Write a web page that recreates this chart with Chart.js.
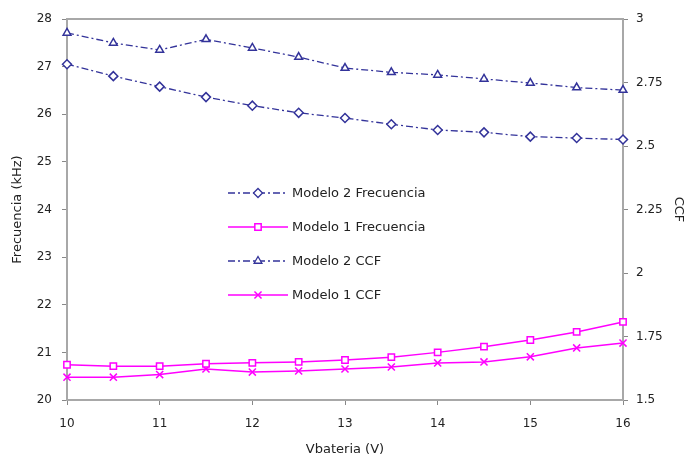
<!DOCTYPE html>
<html>
<head>
<meta charset="utf-8">
<script src="https://cdn.jsdelivr.net/npm/chart.js@4/dist/chart.umd.min.js"></script>
<style>
  body { margin: 0; background: #fff; }
  canvas { display: block; }
</style>
</head>
<body>
<canvas id="chart" width="688" height="462"></canvas>
<script>
// datos
const vbateria = [10, 10.5, 11, 11.5, 12, 12.5, 13, 13.5, 14, 14.5, 15, 15.5, 16];
const modelo2Frec = [27.05, 26.8, 26.58, 26.36, 26.18, 26.03, 25.92, 25.79, 25.67, 25.62, 25.53, 25.5, 25.47];
const modelo1Frec = [20.74, 20.71, 20.71, 20.76, 20.78, 20.8, 20.84, 20.9, 21.0, 21.12, 21.26, 21.43, 21.64];
const modelo2CCF = [2.945, 2.906, 2.878, 2.92, 2.886, 2.85, 2.807, 2.79, 2.78, 2.764, 2.748, 2.73, 2.72];
const modelo1CCF = [1.59, 1.59, 1.6, 1.622, 1.61, 1.614, 1.622, 1.63, 1.646, 1.65, 1.67, 1.705, 1.724];
const frecTicks = [20, 21, 22, 23, 24, 25, 26, 27, 28];
const ccfTicks = [1.5, 1.75, 2, 2.25, 2.5, 2.75, 3];

const azul = '#33339a';
const magenta = '#ff00ff';
const txt = '#222';
const family = 'DejaVu Sans, Liberation Sans, Arial, sans-serif';
const font = { family: family, size: 12 };
const titleFont = { family: family, size: 13 };

function pts(ys) {
    return vbateria.map((x, i) => ({ x: x, y: ys[i] }));
}

// leyenda dentro del área de dibujo
const legendPlugin = {
    id: 'insideLegend',
    afterDraw(chart) {
        const ctx = chart.ctx;
        const x0 = 228, x1 = 288, y0 = 193, step = 34;
        chart.data.datasets.forEach((ds, i) => {
            const y = y0 + i * step;
            ctx.save();
            ctx.strokeStyle = ds.borderColor;
            ctx.lineWidth = ds.borderWidth;
            ctx.setLineDash(ds.borderDash || []);
            ctx.beginPath();
            ctx.moveTo(x0, y);
            ctx.lineTo(x1, y);
            ctx.stroke();
            ctx.setLineDash([]);
            ctx.fillStyle = '#fff';
            ctx.strokeStyle = ds.pointBorderColor;
            Chart.helpers.drawPoint(ctx, {
                pointStyle: ds.pointStyle,
                radius: ds.pointRadius,
                borderWidth: ds.pointBorderWidth,
                rotation: 0
            }, (x0 + x1) / 2, y);
            ctx.fillStyle = txt;
            ctx.font = '13px ' + family;
            ctx.textBaseline = 'middle';
            ctx.fillText(ds.label, x1 + 4, y + 1);
            ctx.restore();
        });
    }
};

// marco gris alrededor del área
const framePlugin = {
    id: 'frame',
    beforeDatasetsDraw(chart) {
        const a = chart.chartArea;
        const ctx = chart.ctx;
        ctx.save();
        ctx.strokeStyle = '#a8a8a8';
        ctx.lineWidth = 2;
        ctx.strokeRect(a.left, a.top, a.right - a.left, a.bottom - a.top);
        ctx.restore();
    }
};

const bgPlugin = {
    id: 'bg',
    beforeDraw(chart) {
        const ctx = chart.ctx;
        ctx.save();
        ctx.fillStyle = '#fff';
        ctx.fillRect(0, 0, chart.width, chart.height);
        ctx.restore();
    }
};

const ctx = document.getElementById('chart').getContext('2d');
const chart = new Chart(ctx, {
    type: 'line',
    data: {
        datasets: [
            {
                label: 'Modelo 2 Frecuencia',
                data: pts(modelo2Frec),
                yAxisID: 'y',
                clip: false,
                borderColor: azul,
                borderWidth: 1.3,
                borderDash: [7, 3, 2, 3],
                pointStyle: 'rectRot',
                pointRadius: 4.5,
                pointBorderWidth: 1.5,
                pointBackgroundColor: '#fff',
                pointBorderColor: azul
            },
            {
                label: 'Modelo 1 Frecuencia',
                data: pts(modelo1Frec),
                yAxisID: 'y',
                clip: false,
                borderColor: magenta,
                borderWidth: 1.5,
                pointStyle: 'rect',
                pointRadius: 4.5,
                pointBorderWidth: 1.5,
                pointBackgroundColor: '#fff',
                pointBorderColor: magenta
            },
            {
                label: 'Modelo 2 CCF',
                data: pts(modelo2CCF),
                yAxisID: 'y1',
                clip: false,
                borderColor: azul,
                borderWidth: 1.3,
                borderDash: [7, 3, 2, 3],
                pointStyle: 'triangle',
                pointRadius: 4.5,
                pointBorderWidth: 1.5,
                pointBackgroundColor: '#fff',
                pointBorderColor: azul
            },
            {
                label: 'Modelo 1 CCF',
                data: pts(modelo1CCF),
                yAxisID: 'y1',
                clip: false,
                borderColor: magenta,
                borderWidth: 1.5,
                pointStyle: 'crossRot',
                pointRadius: 5,
                pointBorderWidth: 1.5,
                pointBackgroundColor: magenta,
                pointBorderColor: magenta
            }
        ]
    },
    options: {
        responsive: false,
        animation: false,
        layout: { padding: { top: 19, left: 0, right: 0, bottom: 0 } },
        plugins: {
            legend: { display: false },
            tooltip: { enabled: false }
        },
        scales: {
            x: {
                type: 'linear',
                min: 10,
                max: 16,
                afterFit(s) { s.height = 62; },
                afterBuildTicks(s) { s.ticks = vbateria.filter(v => v % 1 === 0).map(v => ({ value: v })); },
                border: { color: '#888', width: 2 },
                grid: { drawOnChartArea: false, drawTicks: true, tickLength: 5, color: '#888' },
                ticks: { color: txt, font: font, padding: 12, callback: v => String(v) },
                title: { display: true, text: 'Vbateria (V)', color: txt, font: titleFont, padding: { top: 0, bottom: 5 } }
            },
            y: {
                position: 'left',
                min: 20,
                max: 28,
                afterFit(s) { s.width = 67; },
                afterBuildTicks(s) { s.ticks = frecTicks.map(v => ({ value: v })); },
                border: { color: '#888', width: 2 },
                grid: { drawOnChartArea: false, drawTicks: true, tickLength: 5, color: '#888' },
                ticks: { color: txt, font: font, padding: 10, callback: v => String(v) },
                title: { display: true, text: 'Frecuencia (kHz)', color: txt, font: titleFont, padding: { top: 10, bottom: 0 } }
            },
            y1: {
                position: 'right',
                min: 1.5,
                max: 3,
                afterFit(s) { s.width = 65; },
                afterBuildTicks(s) { s.ticks = ccfTicks.map(v => ({ value: v })); },
                border: { color: '#888', width: 2 },
                grid: { drawOnChartArea: false, drawTicks: true, tickLength: 5, color: '#888' },
                ticks: { color: txt, font: font, padding: 8, callback: v => String(v) },
                title: { display: true, text: 'CCF', color: txt, font: titleFont, padding: { top: 2, bottom: 0 } }
            }
        }
    },
    plugins: [bgPlugin, framePlugin, legendPlugin]
});
</script>
</body>
</html>
